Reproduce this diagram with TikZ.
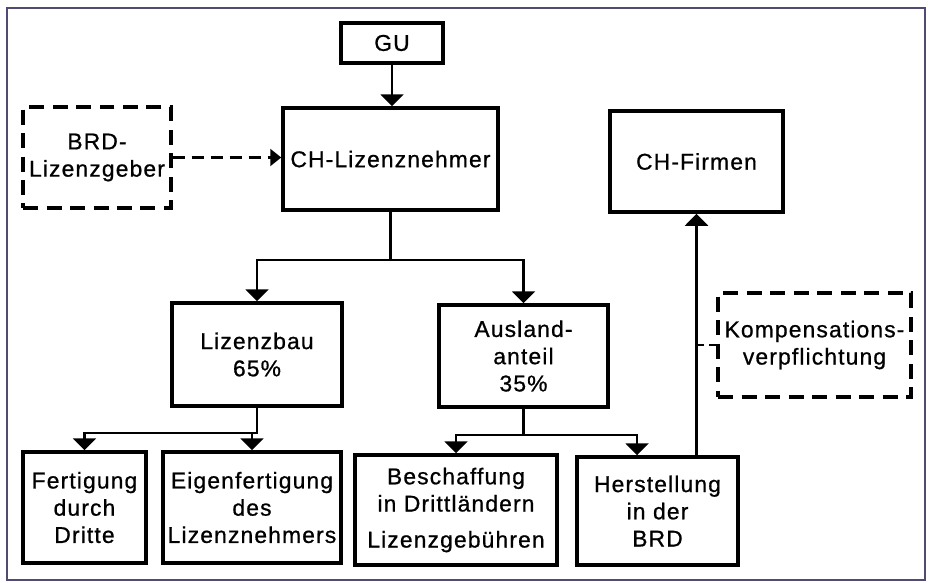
\documentclass[tikz,border=0pt]{standalone}
\usepackage{fontspec}
\setmainfont{Liberation Sans}[LetterSpace=5,FakeBold=0.8]
\usetikzlibrary{arrows.meta}

\begin{document}
\begin{tikzpicture}[x=0.02cm,y=-0.02cm,
    box/.style={draw,line width=2pt,align=center,inner sep=1pt,
      font=\fontsize{13}{15.5}\selectfont},
    dbox/.style={box,dash pattern=on 0.3cm off 0.17cm},
    arr/.style={line width=1.2pt,-{Triangle[width=0.46cm,length=0.24cm]}},
    darr/.style={line width=1.2pt,dash pattern=on 0.24cm off 0.14cm,
      -{Triangle[width=0.34cm,length=0.22cm]}}]
    \useasboundingbox (0,0) rectangle (928,582);
    \draw[line width=0.7pt,color={rgb,255:red,80;green,75;blue,115}] (7,8) rectangle (925,580);

    \node[box,minimum width=2.04cm,minimum height=0.8cm] (gu) at (392,43) {GU};
    \node[box,minimum width=4.3cm,minimum height=2.04cm] (nehmer) at (390.5,159) {CH-Lizenznehmer};
    \node[dbox,minimum width=2.96cm,minimum height=2.02cm] (geber) at (97,157.5) {BRD-\\Lizenzgeber};
    \node[box,minimum width=3.46cm,minimum height=2.02cm] (firmen) at (696.5,161.5) {CH-Firmen};
    \node[dbox,minimum width=3.86cm,minimum height=2.08cm] (komp) at (814.5,345) {Kompensations-\\verpflichtung};
    \node[box,minimum width=3.4cm,minimum height=2.06cm] (bau) at (257,354.5) {Lizenzbau\\65\%};
    \node[box,minimum width=3.38cm,minimum height=2.04cm] (ausland) at (523.5,356) {Ausland-\\anteil\\35\%};
    \node[box,minimum width=2.46cm,minimum height=2.22cm] (fertigung) at (84.5,507.5) {Fertigung\\durch\\Dritte};
    \node[box,minimum width=3.56cm,minimum height=2.22cm] (eigen) at (252,507.5) {Eigenfertigung\\des\\Lizenznehmers};
    \node[box,minimum width=4.04cm,minimum height=2.2cm] (besch) at (456,510) {Beschaffung\\in Drittländern\\[5pt]Lizenzgebühren};
    \node[box,minimum width=3.22cm,minimum height=2.16cm] (herst) at (657.5,511) {Herstellung\\in der\\BRD};

    \draw[arr] (gu.south) -- (nehmer.north -| gu.south);
    \draw[darr] (geber.east) -- (nehmer.west |- geber.east);
    \draw[arr] (nehmer.south) -- ++(0,48) coordinate (n1) -| (bau.north);
    \draw[arr] (n1) -| (ausland.north);
    \draw[arr] (bau.south) -- ++(0,25) coordinate (b1) -| (fertigung.north);
    \draw[arr] (b1) -| (eigen.north);
    \draw[arr] (ausland.south) -- ++(0,26) coordinate (a1) -| (besch.north);
    \draw[arr] (a1) -| ([xshift=-0.41cm]herst.north);
    \draw[arr] (herst.north -| firmen.south) -- (firmen.south);
    \draw[line width=1.2pt,dash pattern=on 0.14cm off 0.1cm] (komp.west) -- (komp.west -| firmen.south);
\end{tikzpicture}
\end{document}
